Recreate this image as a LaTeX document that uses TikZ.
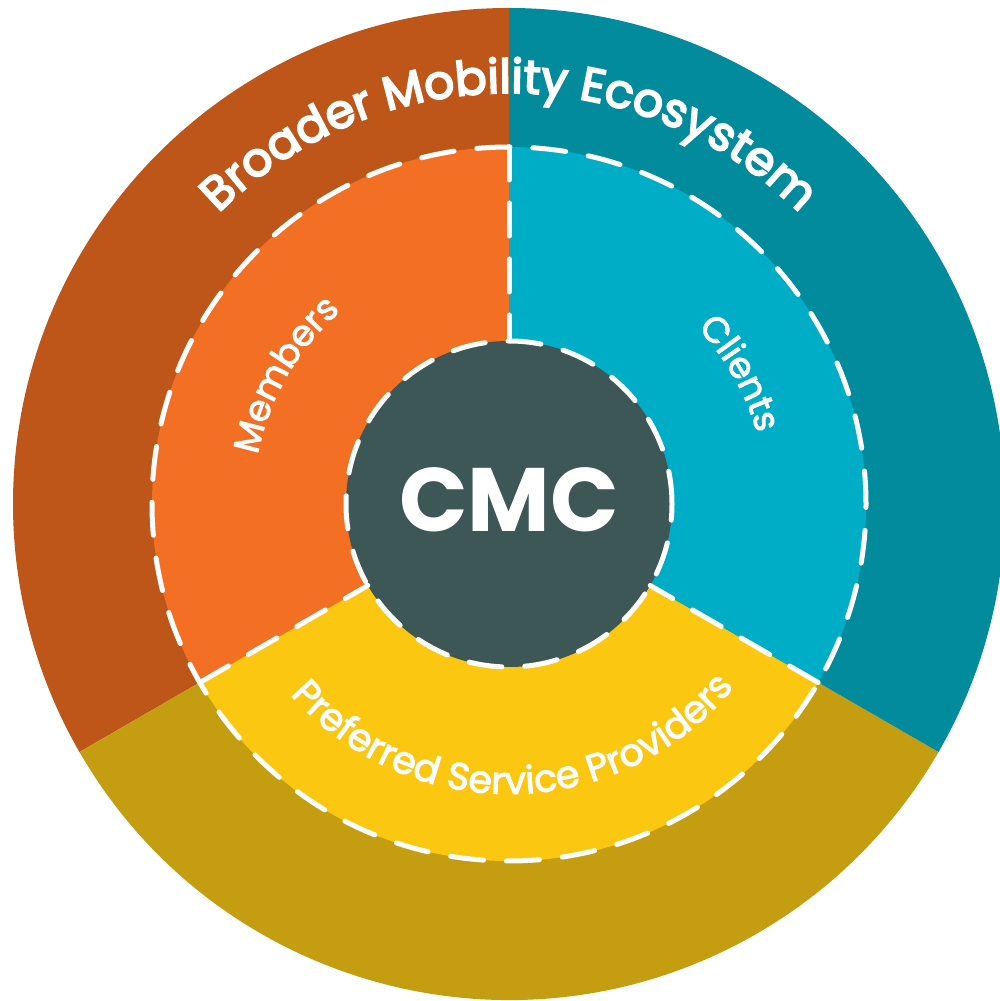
\documentclass[tikz,border=0pt]{standalone}
\usepackage{fontspec}
\setmainfont{Poppins}
\usetikzlibrary{calc,decorations.text}
\definecolor{outerL}{HTML}{BE561A}
\definecolor{outerR}{HTML}{028A9D}
\definecolor{outerB}{HTML}{C59D10}
\definecolor{midL}{HTML}{F26F24}
\definecolor{midR}{HTML}{00ADC6}
\definecolor{midB}{HTML}{FCC711}
\definecolor{core}{HTML}{3D5656}
\tikzset{
  whitedash/.style={draw=white, line width=5pt, line cap=round, dash pattern=on 33pt off 23pt},
  ringtext/.style={decorate, decoration={text along path, text align=center, text color=white, text={#1}}}
}
\begin{document}
\begin{tikzpicture}[x=1pt,y=1pt]
\useasboundingbox (0,0) rectangle (1000,1001);
\clip (0,0) rectangle (1000,1001);
\coordinate (C) at (509,497);
% outer ring
\fill[outerL] (C) -- ++(90:496pt) arc[start angle=90,end angle=210,radius=496pt] -- cycle;
\fill[outerB] (C) -- ++(210:496pt) arc[start angle=210,end angle=330,radius=496pt] -- cycle;
\fill[outerR] (C) -- ++(330:496pt) arc[start angle=330,end angle=450,radius=496pt] -- cycle;
% middle ring
\fill[midL] (C) -- ++(90:357pt) arc[start angle=90,end angle=210,radius=357pt] -- cycle;
\fill[midB] (C) -- ++(210:357pt) arc[start angle=210,end angle=330,radius=357pt] -- cycle;
\fill[midR] (C) -- ++(330:357pt) arc[start angle=330,end angle=450,radius=357pt] -- cycle;
% core
\fill[core] (C) circle[radius=163pt];
% dashed lines
\draw[whitedash] (C) circle[radius=357pt];
\draw[whitedash] (C) circle[radius=163pt];
\foreach \a in {90,210,330}{
  \draw[whitedash] ($(C)+(\a:357pt)$) -- ($(C)+(\a:163pt)$);
}
% texts
\path[ringtext={|\fontsize{47}{50}\selectfont\addfontfeature{FakeBold=4}|Broader Mobility Ecosystem}]
  ($(C)+(175:411pt)$) arc[start angle=175,end angle=5,radius=411pt];
\path[ringtext={|\fontsize{36}{40}\selectfont\addfontfeature{FakeBold=2.5}|Members}]
  ($(C)+(200:256pt)$) arc[start angle=200,end angle=100,radius=256pt];
\path[ringtext={|\fontsize{36}{40}\selectfont\addfontfeature{FakeBold=2.5}|Clients}]
  ($(C)+(79.5:258pt)$) arc[start angle=79.5,end angle=-20.5,radius=258pt];
\path[ringtext={|\fontsize{38}{40}\selectfont\addfontfeature{FakeBold=2.5}|Preferred Service Providers}]
  ($(C)+(191:290pt)$) arc[start angle=191,end angle=351,radius=290pt];
\node[text=white, font=\fontsize{90}{96}\selectfont\bfseries] (cmc) at (509,501) {CMC};
\end{tikzpicture}
\end{document}
